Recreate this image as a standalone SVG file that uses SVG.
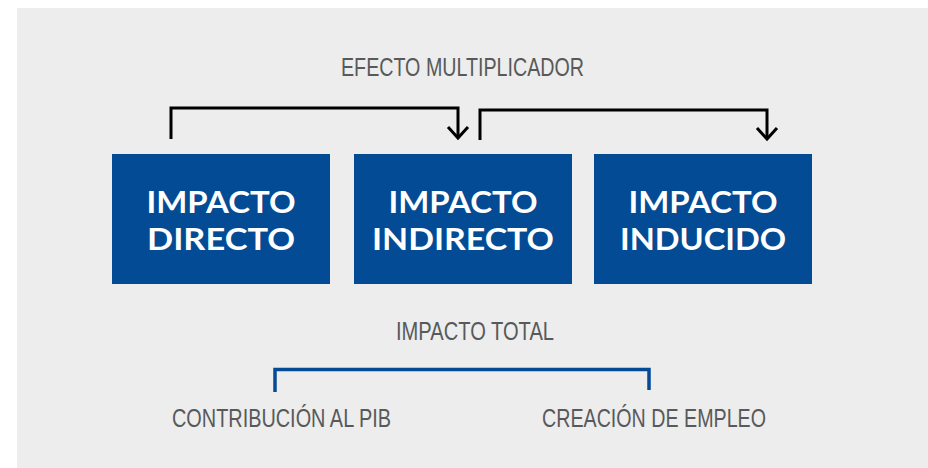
<svg xmlns="http://www.w3.org/2000/svg" width="928" height="468" viewBox="0 0 928 468">
<style>
.box{fill:#034b94}
.bt{font-family:Lato,"Open Sans","Liberation Sans",sans-serif;font-weight:700;font-size:31px;fill:#ffffff;text-anchor:middle}
.lbl{font-family:"Liberation Sans",Arial,sans-serif;font-size:26px;fill:#58595b}
.arr{fill:none;stroke:#000000;stroke-width:3;marker-end:url(#ah)}
.br{fill:none;stroke:#034b94;stroke-width:3.5}
</style>
<defs>
<marker id="ah" markerUnits="userSpaceOnUse" markerWidth="30" markerHeight="30" refX="0" refY="0" orient="auto" viewBox="-15 -15 30 30" overflow="visible">
<path d="M-11,-10 L0,0 L-11,10" fill="none" stroke="#000000" stroke-width="3"/>
</marker>
</defs>
<rect x="17" y="8" width="911" height="460" fill="#ecedec"/>
<text class="lbl" x="341" y="76" textLength="243" lengthAdjust="spacingAndGlyphs">EFECTO MULTIPLICADOR</text>
<g id="connectors">
<path class="arr" d="M171,139 V108 H458 V138"/>
<path class="arr" d="M480,140 V110 H767 V139"/>
<path class="br" d="M275,392 V369.5 H649 V390"/>
</g>
<g id="directo">
<rect class="box" x="112" y="154" width="218" height="130"/>
<text class="bt" x="221" y="212.5" textLength="149" lengthAdjust="spacingAndGlyphs">IMPACTO</text>
<text class="bt" x="221" y="250" textLength="148" lengthAdjust="spacingAndGlyphs">DIRECTO</text>
</g>
<g id="indirecto">
<rect class="box" x="354" y="154" width="218" height="130"/>
<text class="bt" x="463" y="212.5" textLength="149" lengthAdjust="spacingAndGlyphs">IMPACTO</text>
<text class="bt" x="463" y="250" textLength="182" lengthAdjust="spacingAndGlyphs">INDIRECTO</text>
</g>
<g id="inducido">
<rect class="box" x="594" y="154" width="218" height="130"/>
<text class="bt" x="703" y="212.5" textLength="149" lengthAdjust="spacingAndGlyphs">IMPACTO</text>
<text class="bt" x="703" y="250" textLength="166" lengthAdjust="spacingAndGlyphs">INDUCIDO</text>
</g>
<g id="total">
<text class="lbl" x="396" y="340" textLength="158" lengthAdjust="spacingAndGlyphs">IMPACTO TOTAL</text>
</g>
<g id="pib">
<text class="lbl" x="172" y="427" textLength="219" lengthAdjust="spacingAndGlyphs">CONTRIBUCIÓN AL PIB</text>
</g>
<g id="empleo">
<text class="lbl" x="542" y="427" textLength="224" lengthAdjust="spacingAndGlyphs">CREACIÓN DE EMPLEO</text>
</g>
</svg>
